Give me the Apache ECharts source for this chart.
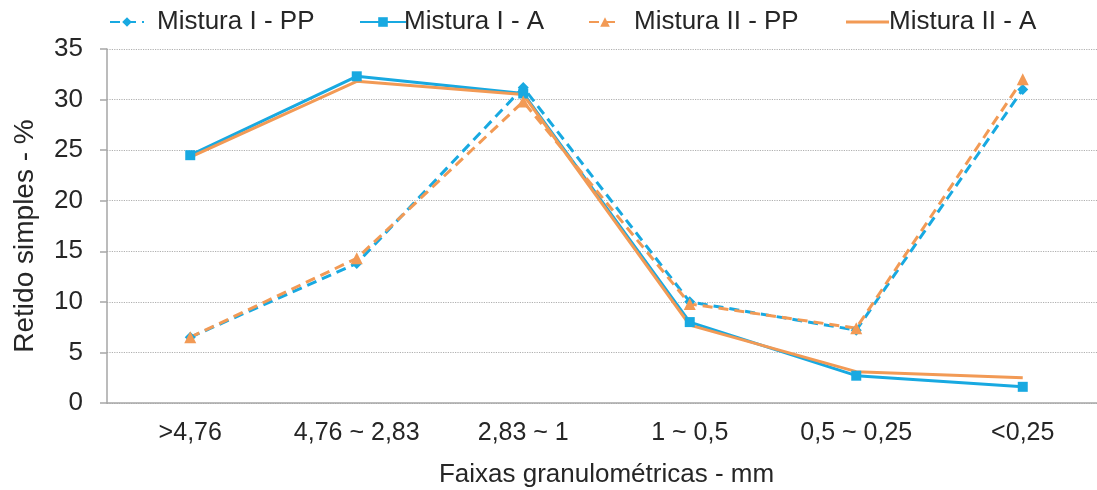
<!DOCTYPE html>
<html>
<head>
<meta charset="utf-8">
<script src="https://cdn.jsdelivr.net/npm/echarts@6/dist/echarts.min.js"></script>
<style>
  html, body { margin: 0; padding: 0; background: #fff; }
  #chart { width: 1097px; height: 490px; }
</style>
</head>
<body>
<div id="chart"></div>
<script>
var categories = ['>4,76', '4,76 ~ 2,83', '2,83 ~ 1', '1 ~ 0,5', '0,5 ~ 0,25', '<0,25'];
var misturaIPP = [6.5, 13.8, 31.2, 10.0, 7.2, 31.0];
var misturaIA = [24.5, 32.3, 30.6, 8.0, 2.7, 1.6];
var misturaIIPP = [6.5, 14.3, 29.8, 9.8, 7.4, 32.0];
var misturaIIA = [24.3, 31.8, 30.5, 7.7, 3.1, 2.5];

var FONT = '"Liberation Sans", Arial, sans-serif';
var BLUE = '#18a9e1';
var ORANGE = '#f29a55';
var TEXT = '#262626';

var chart = echarts.init(document.getElementById('chart'));

// one legend per item so each can sit where the original has it
function legendItem(item, left, width, height, textGap) {
    return {
        data: [item],
        top: 4,
        left: left,
        itemWidth: width,
        itemHeight: height,
        textStyle: { fontFamily: FONT, fontSize: 26, color: TEXT, padding: [0, 0, 0, textGap] },
    };
}

var option = {
    animation: false,
    legend: [
        legendItem('Mistura I - PP', 104, 34, 12, 8),
        legendItem('Mistura I - A', 354, 46, 12, -7),
        legendItem('Mistura II - PP', 583, 32, 12, 8),
        legendItem({ name: 'Mistura II - A', icon: 'rect' }, 841, 43, 3, -5),
    ],
    grid: {
        left: 107,
        top: 49,
        width: 999,
        height: 354,
        outerBoundsMode: 'none',
        containLabel: false,
    },
    graphic: [
        {
            type: 'text',
            x: 25,
            y: 236,
            rotation: Math.PI / 2,
            style: {
                text: 'Retido simples - %',
                fontFamily: FONT,
                fontSize: 28,
                fill: TEXT,
                align: 'center',
                verticalAlign: 'middle',
            },
        },
    ],
    xAxis: {
        type: 'category',
        data: categories,
        boundaryGap: true,
        name: 'Faixas granulométricas - mm',
        nameLocation: 'middle',
        nameGap: 59,
        nameTextStyle: { fontFamily: FONT, fontSize: 26, color: TEXT },
        axisLine: { lineStyle: { color: '#a6a6a6', width: 1.5 } },
        axisTick: { length: 8, lineStyle: { color: '#a6a6a6', width: 1.5 } },
        axisLabel: { fontFamily: FONT, fontSize: 25, color: TEXT, margin: 18 },
        splitLine: { show: false },
    },
    yAxis: {
        type: 'value',
        min: 0,
        max: 35,
        interval: 5,
        axisLine: { show: true, lineStyle: { color: '#a6a6a6', width: 1.5 } },
        axisTick: { show: true, length: 7, lineStyle: { color: '#a6a6a6', width: 1.5 } },
        axisLabel: { fontFamily: FONT, fontSize: 26, color: TEXT, margin: 24 },
        splitLine: { lineStyle: { color: '#b0b0b0', type: 'dotted', width: 1.2 } },
    },
    series: [
        {
            name: 'Mistura I - PP',
            type: 'line',
            data: misturaIPP,
            symbol: 'diamond',
            symbolSize: 11,
            itemStyle: { color: BLUE },
            lineStyle: { color: BLUE, width: 3, type: [10, 6] },
        },
        {
            name: 'Mistura I - A',
            type: 'line',
            data: misturaIA,
            symbol: 'rect',
            symbolSize: 10,
            itemStyle: { color: BLUE },
            lineStyle: { color: BLUE, width: 3 },
        },
        {
            name: 'Mistura II - PP',
            type: 'line',
            data: misturaIIPP,
            symbol: 'triangle',
            symbolSize: 12,
            itemStyle: { color: ORANGE },
            lineStyle: { color: ORANGE, width: 3, type: [10, 6] },
        },
        {
            name: 'Mistura II - A',
            type: 'line',
            data: misturaIIA,
            symbol: 'none',
            itemStyle: { color: ORANGE },
            lineStyle: { color: ORANGE, width: 3 },
        },
    ],
};

chart.setOption(option);
</script>
</body>
</html>
